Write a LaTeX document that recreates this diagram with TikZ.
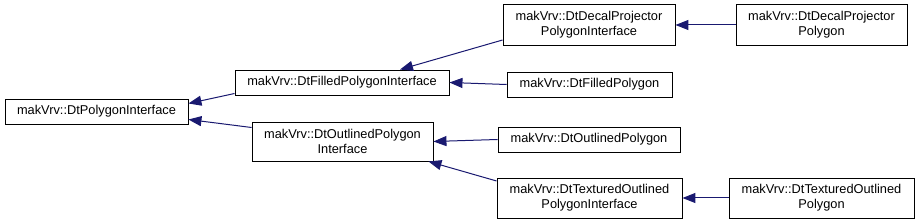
\documentclass[tikz,border=0pt]{standalone}
\usepackage{fontspec}
\setmainfont{Liberation Sans}
\usetikzlibrary{arrows.meta}
\definecolor{edgeblue}{HTML}{191970}
\begin{document}
\begin{tikzpicture}[x=1pt,y=-1pt,
  cls/.style={draw=black,line width=0.9pt,fill=white,inner sep=0pt,align=center,font=\fontsize{12.8}{15}\selectfont},
  inh/.style={draw=edgeblue,line width=1pt,-{Triangle[length=13pt,width=10pt]},shorten >=0pt}]
\useasboundingbox (0,0) rectangle (919,224);
\node[cls,minimum width=183pt,minimum height=25pt] (A) at (96.5,111.5) {makVrv::DtPolygonInterface};
\node[cls,minimum width=214pt,minimum height=25pt] (B) at (342,82.5) {makVrv::DtFilledPolygonInterface};
\node[cls,minimum width=181pt,minimum height=39pt] (C) at (342.5,141.5) {makVrv::DtOutlinedPolygon\\Interface};
\node[cls,minimum width=172pt,minimum height=41pt] (D) at (589,25) {makVrv::DtDecalProjector\\PolygonInterface};
\node[cls,minimum width=171pt,minimum height=41pt] (E) at (821.5,25) {makVrv::DtDecalProjector\\Polygon};
\node[cls,minimum width=165pt,minimum height=25pt] (F) at (589.5,84.5) {makVrv::DtFilledPolygon};
\node[cls,minimum width=182pt,minimum height=25pt] (G) at (589,139.5) {makVrv::DtOutlinedPolygon};
\node[cls,minimum width=185pt,minimum height=40pt] (H) at (589.5,198) {makVrv::DtTexturedOutlined\\PolygonInterface};
\node[cls,minimum width=185pt,minimum height=40pt] (I) at (821.5,198) {makVrv::DtTexturedOutlined\\Polygon};
\draw[inh] ([yshift=-11pt]B.west) -- ([yshift=8pt]A.east);
\draw[inh] ([yshift=14pt]C.west) -- ([yshift=-8pt]A.east);
\draw[inh] ([yshift=-15pt]D.west) -- ([xshift=58pt]B.north);
\draw[inh] (F.west) -- (B.east);
\draw[inh] (E.west) -- (D.east);
\draw[inh] (G.west) -- (C.east);
\draw[inh] ([yshift=17pt]H.west) -- ([xshift=-5pt]C.south east);
\draw[inh] (I.west) -- (H.east);
\end{tikzpicture}
\end{document}
